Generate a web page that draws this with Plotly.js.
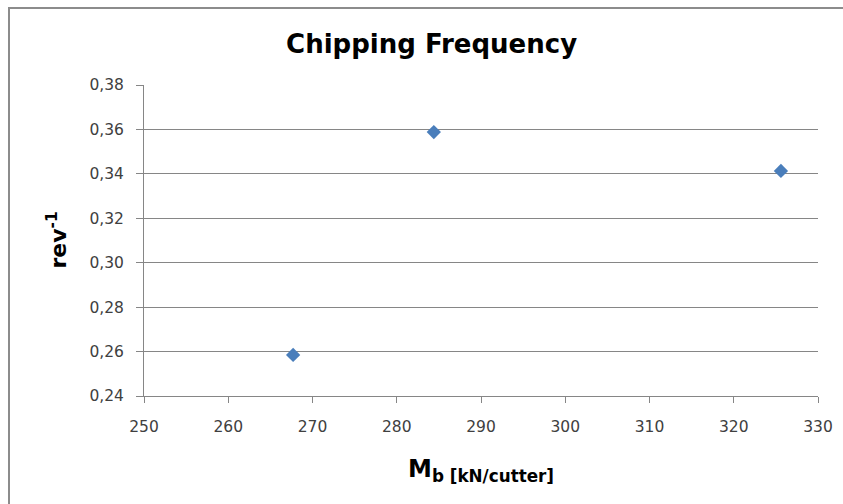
<!DOCTYPE html>
<html>
<head>
<meta charset="utf-8">
<script src="https://cdn.plot.ly/plotly-3.0.1.min.js"></script>
<style>
html,body{margin:0;padding:0;background:#fff;}
#wrap{position:relative;width:843px;height:504px;overflow:hidden;}
#chart{position:absolute;left:0;top:0;width:843px;height:504px;}
#frame{position:absolute;left:8px;top:7px;width:900px;height:600px;border:2px solid #8c8c8c;box-sizing:border-box;pointer-events:none;}
</style>
</head>
<body>
<div id="wrap"><div id="chart"></div><div id="frame"></div></div>
<script>
const mbValues = [267.7, 284.4, 325.6];
const chippingFreq = [0.2585, 0.3588, 0.3413];
const yTicks = [0.24, 0.26, 0.28, 0.30, 0.32, 0.34, 0.36, 0.38];
const xTicks = [250, 260, 270, 280, 290, 300, 310, 320, 330];

const FONT = '"DejaVu Sans", "Open Sans", sans-serif';

const trace = {
  x: mbValues,
  y: chippingFreq,
  type: 'scatter',
  mode: 'markers',
  marker: {symbol: 'diamond', size: 11, color: '#4a7ebb'},
  showlegend: false,
  hoverinfo: 'x+y'
};

const layout = {
  width: 843, height: 504,
  paper_bgcolor: 'rgba(0,0,0,0)', plot_bgcolor: '#fff',
  separators: ',.',
  margin: {l: 144, r: 25, t: 85, b: 108},
  font: {family: FONT, color: '#404040'},
  title: {text: '<b>Chipping Frequency</b>', x: 0.512, xanchor: 'center', y: 0.912, yanchor: 'middle',
          font: {family: FONT, size: 26, color: '#000'}},
  xaxis: {
    range: [250, 330], tickvals: xTicks, ticktext: xTicks.map(String),
    showgrid: false, zeroline: false,
    showline: true, linecolor: '#868686', linewidth: 1,
    ticks: 'outside', ticklen: 6, tickcolor: '#868686',
    ticklabelstandoff: 10,
    tickfont: {family: FONT, size: 15.5, color: '#404040'},
    title: {text: '<b>M<sub>b [kN/cutter]</sub></b>', standoff: 25,
            font: {family: FONT, size: 24, color: '#000'}}
  },
  yaxis: {
    range: [0.24, 0.38], tickvals: yTicks, tickformat: '.2f',
    showgrid: true, gridcolor: '#868686', gridwidth: 1, zeroline: false,
    showline: true, linecolor: '#868686', linewidth: 1,
    ticks: 'outside', ticklen: 7, tickcolor: '#868686',
    ticklabelstandoff: 9,
    tickfont: {family: FONT, size: 15.5, color: '#404040'},
    title: {text: ''}
  },
  annotations: [{
    text: '<b>rev<sup>-1</sup></b>', xref: 'paper', yref: 'paper',
    x: 0, y: 0.5, xanchor: 'center', yanchor: 'middle',
    xshift: -88, yshift: 0, textangle: -90, showarrow: false,
    font: {family: FONT, size: 22, color: '#000'}
  }]
};

Plotly.newPlot('chart', [trace], layout, {displayModeBar: false, staticPlot: true});
</script>
</body>
</html>
